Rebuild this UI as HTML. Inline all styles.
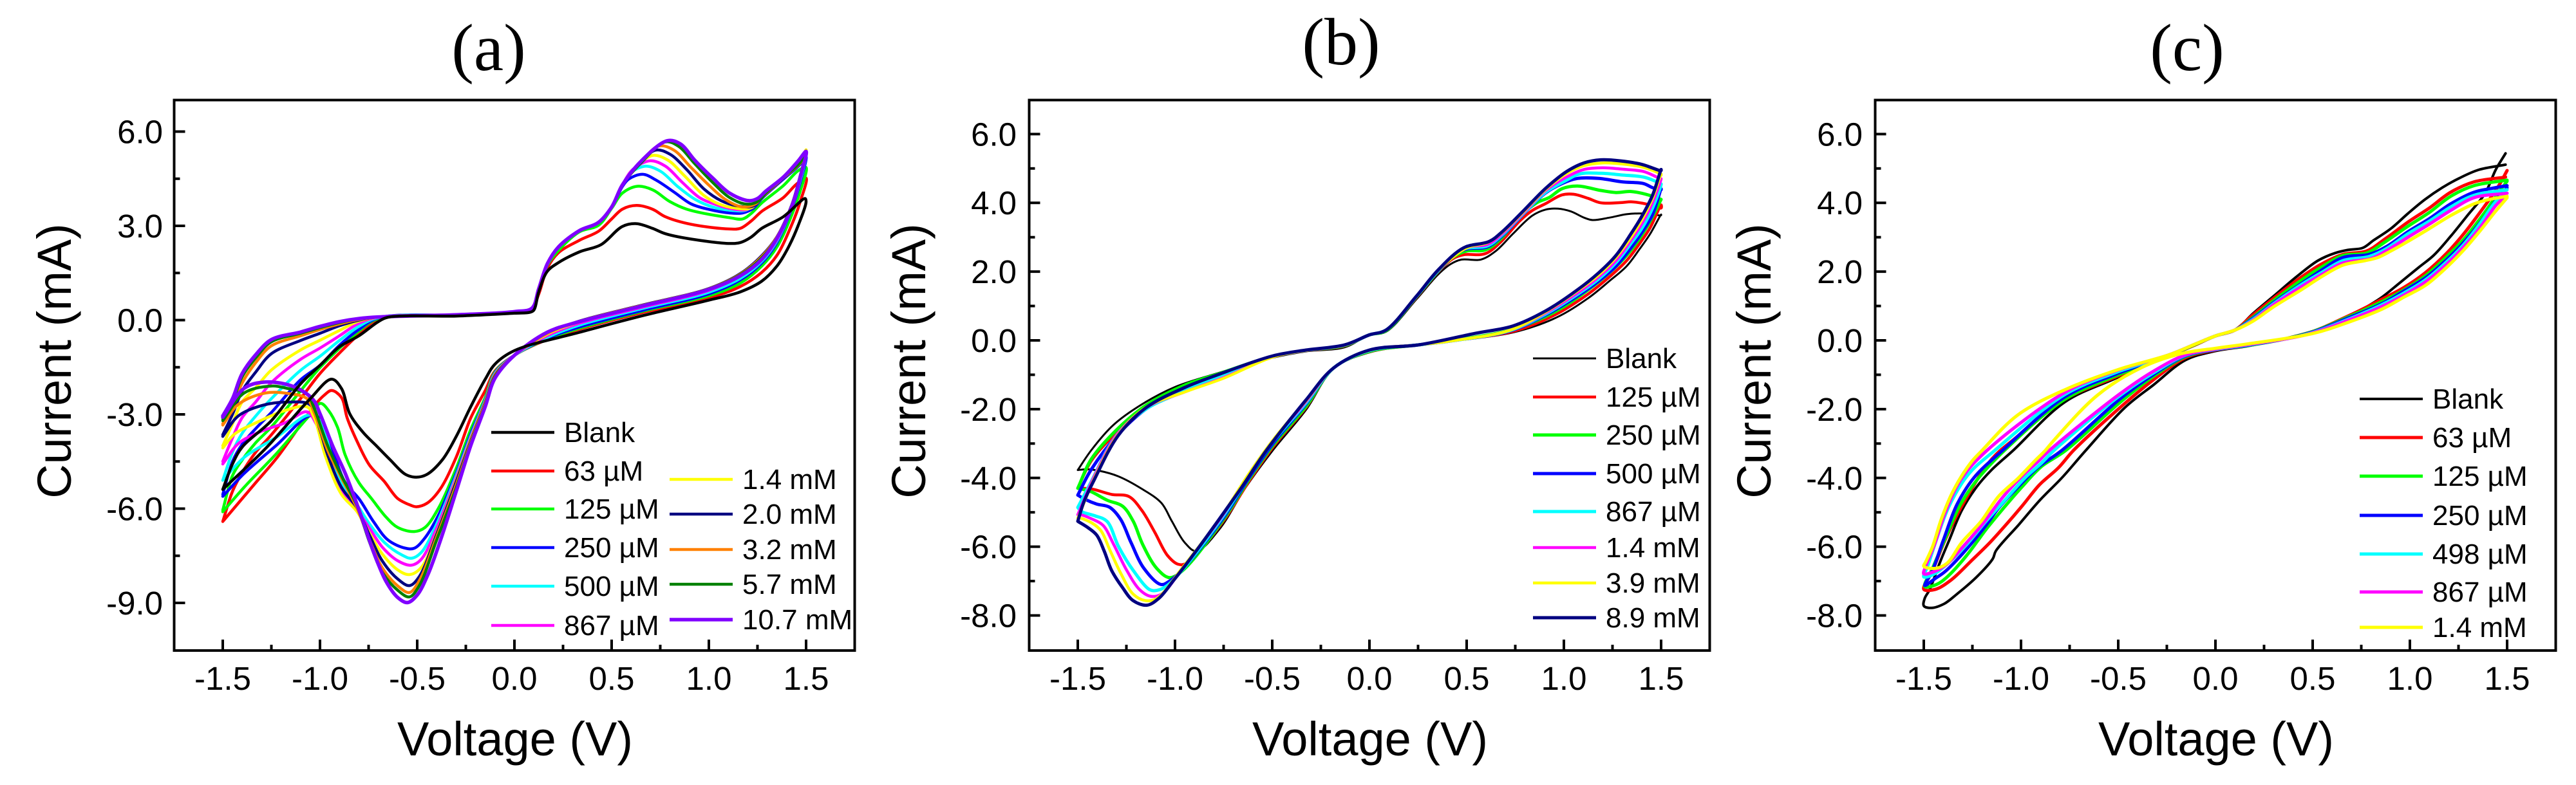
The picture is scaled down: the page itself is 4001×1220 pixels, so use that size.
<!DOCTYPE html>
<html lang="en">
<head>
<meta charset="utf-8">
<title>Cyclic voltammograms (a), (b), (c)</title>
<style>
html,body{margin:0;padding:0;background:#fff;}
svg{display:block;position:absolute;left:0;top:0;}
text{font-family:"Liberation Sans",Arial,sans-serif;fill:#000;}
.panel-title{font-family:"Liberation Serif","Times New Roman",serif;font-size:104px;text-anchor:middle;}
.axis-title{font-size:74px;text-anchor:middle;}
</style>
</head>
<body>
<svg id="figure" xmlns="http://www.w3.org/2000/svg" width="4001" height="1220" viewBox="0 0 4001 1220">
  <rect x="0" y="0" width="4001" height="1220" fill="#fff"/>
  <g id="panel-a">
    <text class="panel-title" x="759" y="109">(a)</text>
    <text class="axis-title" transform="translate(110 561) rotate(-90)">Current (mA)</text>
    <text class="axis-title" x="800" y="1174">Voltage (V)</text>
  </g>
  <g id="panel-b">
    <text class="panel-title" x="2083" y="100">(b)</text>
    <text class="axis-title" transform="translate(1437 561) rotate(-90)">Current (mA)</text>
    <text class="axis-title" x="2128" y="1174">Voltage (V)</text>
  </g>
  <g id="panel-c">
    <text class="panel-title" x="3397" y="109">(c)</text>
    <text class="axis-title" transform="translate(2750 561) rotate(-90)">Current (mA)</text>
    <text class="axis-title" x="3442" y="1174">Voltage (V)</text>
  </g>
</svg>
<script>
/* ---------- shared tick values ---------- */
const xTickValues=[-1.5,-1,-0.5,0,0.5,1,1.5];
const xMinorValues=[-1.25,-0.75,-0.25,0.25,0.75,1.25];
const aYTickValues=[-9,-6,-3,0,3,6];
const aYMinorValues=[-7.5,-4.5,-1.5,1.5,4.5];
const bYTickValues=[-8,-6,-4,-2,0,2,4,6];
const bYMinorValues=[-7,-5,-3,-1,1,3,5];
const cYTickValues=[-8,-6,-4,-2,0,2,4,6];
const cYMinorValues=[-7,-5,-3,-1,1,3,5];

/* ---------- panel (a): labels and readings (V in volts, I in mA) ---------- */
const aLabels=['Blank','63 \u00B5M','125 \u00B5M','250 \u00B5M','500 \u00B5M','867 \u00B5M','1.4 mM','2.0 mM','3.2 mM','5.7 mM','10.7 mM'];
const aLeftV=[-1.5,-1.45,-1.4,-1.33,-1.25,-1.1,-1,-0.9,-0.8,-0.7,-0.3,0,0.09];
const aFlatI=[0.17,0.27,0.38];
const aRiseV=[0.125,0.17,0.225,0.335,0.43,0.5];
const aRiseI=[1,1.8,2.32,2.85,3.1,3.6];
const aLowV=[1.5,1.47,1.427,1.35,1.272,1.162,0.997,0.665,0.334,0.168,0,-0.1];

const aBlankV=[-1.5,-1.45,-1.4,-1.25,-1.1,-1,-0.9,-0.8,-0.7,-0.65,-0.3,0,0.08,0.1,0.125,0.169,0.224,0.334,0.445,0.555,0.627,0.71,0.776,0.908,1.107,1.162,1.217,1.272,1.383,1.495,1.5,1.46,1.405,1.35,1.272,1.162,0.997,0.665,0.334,0,-0.1,-0.15,-0.225,-0.3,-0.37,-0.45,-0.505,-0.56,-0.64,-0.71,-0.78,-0.847,-0.89,-0.94,-1.056,-1.277,-1.5];
const aBlankI=[-5.39,-4.58,-4.04,-3.2,-2.03,-1.44,-0.85,-0.5,-0.05,0.09,0.13,0.22,0.25,0.32,0.9,1.55,1.82,2.17,2.4,2.98,3.07,2.92,2.75,2.58,2.44,2.47,2.64,2.92,3.29,3.87,3.77,3.02,2.27,1.72,1.24,0.9,0.63,0.15,-0.39,-0.97,-1.4,-1.88,-2.76,-3.71,-4.44,-4.91,-5,-4.91,-4.44,-4,-3.56,-2.98,-2.17,-1.88,-2.54,-4.07,-5.39];

const a63V=[...aLeftV,0.125,0.169,0.224,0.334,0.433,0.5,0.555,0.627,0.71,0.776,0.908,1.107,1.162,1.217,1.272,1.383,1.449,...aLowV,-0.15,-0.225,-0.3,-0.383,-0.45,-0.505,-0.53,-0.6,-0.67,-0.745,-0.81,-0.86,-0.89,-0.94,-0.98,-1.023,-1.22,-1.33,-1.5];
const a63I=[-6.41,-5.45,-4.85,-4.2,-3.65,-2.5,-1.7,-1.05,-0.45,0.03,...aFlatI,0.83,1.65,2.13,2.54,2.83,3.22,3.53,3.65,3.53,3.29,3.05,2.9,2.92,3.15,3.46,3.9,4.32,4.52,3.77,3.05,2.06,1.52,1.07,0.7,0.25,-0.29,-0.62,-1.12,-1.62,-2.24,-3.12,-4.37,-5.39,-5.83,-5.94,-5.9,-5.68,-5.13,-4.62,-3.85,-3.12,-2.46,-2.24,-2.4,-2.68,-4.37,-5.17,-6.41];

const a125V=[...aLeftV,0.125,0.17,0.224,0.334,0.433,0.5,0.555,0.632,0.71,0.8,0.886,1.107,1.173,1.217,1.272,1.383,1.46,...aLowV,-0.15,-0.225,-0.3,-0.39,-0.46,-0.515,-0.6,-0.66,-0.735,-0.8,-0.87,-0.91,-0.957,-0.997,-1.056,-1.22,-1.39,-1.5];
const a125I=[-6.05,-4.95,-4.45,-3.9,-3.4,-2.25,-1.51,-0.9,-0.35,0.05,...aFlatI,0.95,1.75,2.2,2.81,3.02,3.56,4.04,4.26,4.15,3.77,3.53,3.26,3.22,3.39,3.73,4.28,4.76,4.86,4.11,3.36,2.33,1.72,1.18,0.77,0.29,-0.26,-0.6,-1.12,-1.65,-2.46,-3.49,-4.73,-5.98,-6.6,-6.73,-6.6,-6.27,-5.68,-5.17,-4.3,-3.41,-2.87,-2.65,-3.05,-4.22,-5.32,-6.1];

const a250V=[...aLeftV,...aRiseV,0.555,0.588,0.66,0.73,0.82,0.908,0.996,1.107,1.173,1.228,1.272,1.383,1.47,...aLowV,-0.15,-0.225,-0.3,-0.39,-0.46,-0.515,-0.56,-0.65,-0.725,-0.8,-0.87,-0.935,-1,-1.056,-1.22,-1.39,-1.5];
const a250I=[-5.55,-4.5,-3.95,-3.45,-2.94,-1.9,-1.44,-0.8,-0.3,0.07,...aFlatI,...aRiseI,4.25,4.49,4.64,4.45,4.08,3.7,3.53,3.41,3.41,3.56,3.87,4.49,4.96,5.2,4.38,3.57,2.47,1.82,1.28,0.83,0.32,-0.22,-0.58,-1.12,-1.68,-2.53,-3.63,-4.88,-6.2,-6.93,-7.26,-7.26,-7,-6.41,-5.68,-5.17,-4.15,-3.12,-3.05,-3.96,-4.88,-5.61];

const a500V=[...aLeftV,...aRiseV,0.555,0.6,0.676,0.753,0.84,0.93,1.02,1.107,1.195,1.272,1.383,1.47,...aLowV,-0.15,-0.225,-0.3,-0.4,-0.48,-0.53,-0.58,-0.67,-0.745,-0.815,-0.88,-0.945,-1,-1.056,-1.22,-1.39,-1.5];
const a500I=[-5.1,-4.2,-3.6,-3.05,-2.5,-1.6,-1.15,-0.65,-0.2,0.08,...aFlatI,...aRiseI,4.3,4.7,4.9,4.73,4.25,3.84,3.6,3.5,3.51,3.95,4.52,5,5.3,4.45,3.6,2.52,1.87,1.33,0.88,0.38,-0.16,-0.55,-1.12,-1.7,-2.55,-3.7,-4.95,-6.49,-7.4,-7.58,-7.47,-7.07,-6.49,-5.83,-5.32,-4.22,-3.2,-3.02,-3.71,-4.37,-5.1];

const a867V=[...aLeftV,...aRiseV,0.555,0.61,0.698,0.776,0.864,0.952,1.04,1.13,1.2,1.272,1.383,1.47,...aLowV,-0.15,-0.225,-0.3,-0.4,-0.48,-0.53,-0.6,-0.68,-0.745,-0.81,-0.89,-0.96,-1.02,-1.067,-1.18,-1.31,-1.42,-1.5];
const a867I=[-4.5,-3.75,-3.1,-2.6,-1.99,-1.25,-0.89,-0.5,-0.1,0.09,...aFlatI,...aRiseI,4.3,4.8,5.07,4.9,4.38,3.9,3.67,3.53,3.53,3.95,4.55,5.02,5.38,4.5,3.62,2.56,1.92,1.4,0.94,0.42,-0.1,-0.5,-1.12,-1.72,-2.58,-3.75,-5.02,-6.63,-7.62,-7.8,-7.66,-7.22,-6.63,-6.05,-5.46,-4.3,-3.3,-2.92,-3.27,-3.56,-3.93,-4.58];

const a1p4V=[...aLeftV,...aRiseV,0.555,0.62,0.71,0.787,0.875,0.974,1.05,1.13,1.217,1.272,1.383,1.47,...aLowV,-0.15,-0.225,-0.3,-0.4,-0.48,-0.54,-0.6,-0.68,-0.745,-0.81,-0.89,-0.97,-1.03,-1.067,-1.19,-1.33,-1.44,-1.5];
const a1p4I=[-4,-3.3,-2.6,-2.15,-1.59,-0.95,-0.64,-0.33,-0.03,0.09,...aFlatI,...aRiseI,4.3,4.85,5.24,5.1,4.59,3.97,3.7,3.57,3.57,3.93,4.55,5.05,5.42,4.58,3.66,2.62,1.98,1.45,0.98,0.46,-0.06,-0.45,-1.12,-1.74,-2.6,-3.8,-5.1,-6.78,-7.88,-8.1,-7.95,-7.44,-6.78,-6.09,-5.54,-4.37,-3.1,-2.76,-2.9,-3.27,-3.63,-4.07];

const a2p0V=[...aLeftV,...aRiseV,0.555,0.63,0.726,0.8,0.886,0.974,1.063,1.15,1.228,1.272,1.383,1.47,...aLowV,-0.15,-0.225,-0.3,-0.4,-0.49,-0.54,-0.6,-0.68,-0.745,-0.81,-0.89,-0.96,-1,-1.05,-1.17,-1.3,-1.42,-1.5];
const a2p0I=[-3.65,-3,-2.25,-1.65,-1.07,-0.65,-0.42,-0.18,0,0.1,...aFlatI,...aRiseI,4.3,4.9,5.41,5.28,4.79,4.18,3.8,3.63,3.63,3.9,4.52,5,5.38,4.6,3.68,2.65,2.05,1.48,1,0.49,-0.03,-0.42,-1.12,-1.76,-2.62,-3.85,-5.15,-6.82,-8.17,-8.45,-8.24,-7.66,-6.85,-5.98,-5.32,-4.3,-3.5,-2.7,-2.61,-2.72,-3.05,-3.7];

const a3p2V=[...aLeftV,...aRiseV,0.555,0.64,0.742,0.82,0.908,0.996,1.085,1.173,1.24,1.272,1.383,1.47,...aLowV,-0.15,-0.225,-0.3,-0.4,-0.49,-0.54,-0.6,-0.68,-0.745,-0.81,-0.89,-0.96,-1.03,-1.067,-1.17,-1.28,-1.42,-1.5];
const a3p2I=[-3.3,-2.75,-2,-1.35,-0.82,-0.5,-0.3,-0.12,0.02,0.1,...aFlatI,...aRiseI,4.3,4.95,5.54,5.41,4.86,4.32,3.84,3.6,3.7,3.9,4.53,5,5.36,4.58,3.66,2.64,2.02,1.46,0.99,0.48,-0.04,-0.42,-1.12,-1.78,-2.65,-3.9,-5.25,-6.9,-8.3,-8.67,-8.46,-7.88,-7,-5.98,-5.02,-4.15,-2.95,-2.5,-2.33,-2.32,-2.68,-3.34];

const a5p7V=[...aLeftV,...aRiseV,0.555,0.65,0.776,0.842,0.93,1.02,1.107,1.195,1.25,1.294,1.383,1.47,...aLowV,-0.15,-0.225,-0.3,-0.4,-0.49,-0.54,-0.6,-0.68,-0.745,-0.81,-0.89,-0.96,-1.03,-1.067,-1.17,-1.25,-1.39,-1.5];
const a5p7I=[-3.15,-2.6,-1.8,-1.2,-0.69,-0.42,-0.24,-0.08,0.04,0.1,...aFlatI,...aRiseI,4.3,5,5.67,5.54,4.96,4.38,3.9,3.69,3.77,4.05,4.55,5.02,5.35,4.56,3.65,2.62,1.98,1.44,0.98,0.47,-0.05,-0.4,-1.12,-1.8,-2.7,-3.95,-5.35,-7,-8.46,-8.81,-8.6,-8.02,-7.07,-5.9,-4.95,-4,-2.8,-2.35,-2.17,-2.1,-2.32,-3.2];

const a10p7V=[...aLeftV,...aRiseV,0.555,0.65,0.787,0.853,0.93,1.02,1.107,1.206,1.25,1.294,1.383,1.46,...aLowV,-0.15,-0.225,-0.3,-0.38,-0.445,-0.5,-0.55,-0.6,-0.66,-0.725,-0.79,-0.87,-0.935,-1,-1.034,-1.13,-1.28,-1.39,-1.5];
const a10p7I=[-3.05,-2.5,-1.7,-1.1,-0.62,-0.38,-0.2,-0.05,0.05,0.1,...aFlatI,...aRiseI,4.3,5.05,5.71,5.61,5.07,4.52,4.04,3.8,3.87,4.11,4.55,5.07,5.37,4.55,3.63,2.6,1.93,1.41,0.97,0.46,-0.05,-0.39,-1.12,-1.85,-2.75,-4,-5.46,-7,-8.1,-8.75,-8.99,-8.83,-8.32,-7.37,-6.2,-4.88,-4,-2.98,-2.54,-2.13,-1.97,-2.17,-3.09];

/* ---------- panel (b) readings ---------- */
const bLabels=['Blank','125 \u00B5M','250 \u00B5M','500 \u00B5M','867 \u00B5M','1.4 mM','3.9 mM','8.9 mM'];

const bBlankV=[-1.5,-1.43,-1.317,-1.176,-1.006,-0.807,-0.496,-0.326,-0.127,0,0.085,0.242,0.352,0.418,0.474,0.573,0.65,0.738,0.838,0.904,0.97,1.036,1.103,1.147,1.235,1.323,1.4,1.456,1.5,1.5,1.444,1.39,1.323,1.235,1.125,0.96,0.738,0.44,0.255,0,-0.184,-0.326,-0.496,-0.637,-0.773,-0.89,-0.95,-1.016,-1.07,-1.17,-1.293,-1.392,-1.45,-1.5];
const bBlankI=[-3.77,-3.19,-2.46,-1.88,-1.37,-1,-0.5,-0.32,-0.2,0.16,0.25,1.2,1.91,2.22,2.35,2.35,2.6,3.1,3.63,3.8,3.83,3.75,3.57,3.5,3.57,3.67,3.69,3.66,3.64,3.66,3.1,2.66,2.16,1.73,1.23,0.66,0.23,0,-0.13,-0.35,-0.82,-2.02,-3.19,-4.28,-5.5,-6.13,-5.88,-5.26,-4.73,-4.32,-3.95,-3.79,-3.75,-3.77];

const b125V=[-1.5,-1.43,-1.29,-1.147,-0.95,-0.78,-0.496,-0.326,-0.127,0,0.085,0.242,0.352,0.43,0.484,0.595,0.673,0.772,0.838,0.904,0.99,1.05,1.125,1.19,1.3,1.345,1.42,1.5,1.5,1.444,1.39,1.323,1.235,1.125,0.96,0.738,0.44,0.255,0,-0.184,-0.326,-0.496,-0.62,-0.752,-0.94,-0.984,-1.038,-1.105,-1.17,-1.237,-1.326,-1.43,-1.5];
const b125I=[-4.3,-3.5,-2.62,-1.92,-1.35,-1,-0.47,-0.3,-0.16,0.16,0.28,1.25,1.98,2.38,2.49,2.52,2.85,3.47,3.78,3.97,4.23,4.25,4.13,4,4.01,4.03,3.97,3.85,3.94,3.28,2.82,2.32,1.85,1.35,0.76,0.26,0,-0.13,-0.33,-0.8,-1.95,-3.1,-4.1,-5.26,-6.48,-6.51,-6.26,-5.57,-4.95,-4.54,-4.48,-4.32,-4.3];

const b250V=[-1.5,-1.43,-1.3,-1.147,-0.95,-0.78,-0.496,-0.326,-0.127,0,0.085,0.242,0.352,0.43,0.5,0.595,0.673,0.772,0.86,0.926,0.99,1.07,1.19,1.268,1.345,1.44,1.5,1.5,1.444,1.39,1.323,1.235,1.125,0.96,0.738,0.44,0.255,0,-0.184,-0.326,-0.496,-0.62,-0.75,-0.96,-1.028,-1.094,-1.166,-1.215,-1.27,-1.348,-1.436,-1.5];
const b250I=[-4.3,-3.45,-2.6,-1.88,-1.3,-0.98,-0.46,-0.29,-0.15,0.16,0.28,1.27,2,2.42,2.6,2.63,2.94,3.6,4,4.16,4.41,4.49,4.36,4.3,4.33,4.22,4.1,4.1,3.47,2.97,2.47,1.97,1.47,0.85,0.32,0.01,-0.13,-0.32,-0.8,-1.92,-3.05,-4.05,-5.2,-6.69,-6.9,-6.63,-5.94,-5.26,-4.82,-4.65,-4.39,-4.3];

const b500V=[-1.5,-1.43,-1.3,-1.15,-0.95,-0.78,-0.496,-0.326,-0.127,0,0.085,0.242,0.352,0.484,0.607,0.683,0.794,0.904,0.99,1.07,1.18,1.3,1.41,1.456,1.5,1.5,1.456,1.4,1.345,1.268,1.18,1.07,0.904,0.72,0.44,0.255,0,-0.184,-0.326,-0.496,-0.62,-0.75,-0.96,-1.028,-1.072,-1.16,-1.226,-1.28,-1.337,-1.403,-1.46,-1.5];
const b500I=[-4.5,-3.75,-2.78,-2,-1.42,-1.02,-0.47,-0.29,-0.14,0.16,0.3,1.28,2.01,2.63,2.72,3.04,3.69,4.28,4.56,4.71,4.71,4.61,4.56,4.44,4.38,4.41,3.66,3.13,2.69,2.16,1.73,1.29,0.73,0.27,0,-0.13,-0.3,-0.8,-1.85,-3,-4,-5.15,-6.66,-7,-7.1,-6.63,-5.88,-5.2,-4.85,-4.76,-4.63,-4.5];

const b867V=[-1.5,-1.43,-1.3,-1.15,-0.95,-0.78,-0.496,-0.326,-0.127,0,0.085,0.242,0.352,0.484,0.607,0.683,0.794,0.904,1.014,1.08,1.19,1.3,1.41,1.47,1.5,1.5,1.456,1.4,1.345,1.268,1.18,1.07,0.904,0.72,0.44,0.255,0,-0.184,-0.326,-0.496,-0.62,-0.75,-0.96,-1.04,-1.093,-1.13,-1.215,-1.29,-1.35,-1.413,-1.48,-1.5];
const b867I=[-4.86,-4.1,-2.75,-2,-1.47,-1.05,-0.47,-0.29,-0.14,0.16,0.3,1.28,2.02,2.65,2.75,3.07,3.7,4.3,4.66,4.84,4.86,4.81,4.75,4.63,4.55,4.53,3.85,3.25,2.82,2.26,1.79,1.34,0.76,0.28,0,-0.13,-0.3,-0.8,-1.82,-2.95,-3.95,-5.1,-6.66,-7.13,-7.27,-7.25,-6.69,-6,-5.26,-5.1,-4.98,-4.86];

const b1p4V=[-1.5,-1.415,-1.295,-1.15,-0.95,-0.75,-0.496,-0.326,-0.127,0,0.085,0.242,0.352,0.5,0.607,0.683,0.794,0.904,1.014,1.103,1.2,1.3,1.41,1.478,1.5,1.5,1.456,1.4,1.345,1.268,1.18,1.07,0.904,0.72,0.44,0.255,0,-0.184,-0.326,-0.496,-0.62,-0.75,-0.96,-1.07,-1.127,-1.182,-1.248,-1.315,-1.37,-1.425,-1.486,-1.5];
const b1p4I=[-5.07,-3.95,-2.72,-1.96,-1.5,-1.08,-0.48,-0.29,-0.14,0.16,0.3,1.29,2.03,2.69,2.79,3.1,3.72,4.35,4.75,4.97,5.02,4.98,4.91,4.75,4.7,4.69,4,3.38,2.91,2.32,1.85,1.38,0.79,0.29,0,-0.13,-0.29,-0.8,-1.78,-2.92,-3.9,-5.05,-6.62,-7.38,-7.44,-7.25,-6.69,-5.94,-5.38,-5.2,-5.07,-5.07];

const b3p9V=[-1.5,-1.41,-1.29,-1.15,-0.95,-0.75,-0.496,-0.326,-0.127,0,0.085,0.242,0.352,0.5,0.607,0.683,0.794,0.904,1.014,1.103,1.2,1.3,1.41,1.495,1.5,1.5,1.456,1.4,1.345,1.268,1.18,1.07,0.904,0.72,0.44,0.255,0,-0.184,-0.326,-0.496,-0.62,-0.75,-0.96,-1.093,-1.15,-1.215,-1.28,-1.337,-1.38,-1.425,-1.486,-1.5];
const b3p9I=[-5.17,-3.95,-2.72,-1.95,-1.5,-1.1,-0.48,-0.29,-0.14,0.16,0.3,1.29,2.03,2.69,2.84,3.14,3.75,4.38,4.85,5.08,5.16,5.13,5.03,4.84,4.8,4.84,4.13,3.5,3,2.41,1.91,1.44,0.82,0.29,0,-0.13,-0.29,-0.8,-1.75,-2.9,-3.88,-5.02,-6.6,-7.5,-7.57,-7.38,-6.76,-6.07,-5.54,-5.32,-5.17,-5.17];

const b8p9V=[-1.5,-1.469,-1.416,-1.29,-1.147,-0.95,-0.78,-0.496,-0.326,-0.127,0,0.085,0.242,0.352,0.484,0.617,0.683,0.794,0.904,1.014,1.103,1.19,1.29,1.4,1.5,1.5,1.456,1.4,1.345,1.268,1.18,1.07,0.904,0.738,0.54,0.255,0,-0.184,-0.326,-0.53,-0.663,-0.773,-0.884,-1.006,-1.083,-1.144,-1.215,-1.27,-1.326,-1.364,-1.403,-1.447,-1.5];
const b8p9I=[-5.26,-4.7,-4.06,-2.75,-1.95,-1.37,-1,-0.45,-0.28,-0.13,0.16,0.3,1.29,2.04,2.69,2.88,3.16,3.78,4.41,4.91,5.16,5.25,5.22,5.12,4.94,4.97,4.22,3.6,3.1,2.47,1.97,1.47,0.85,0.42,0.2,-0.13,-0.28,-0.8,-1.73,-3.2,-4.32,-5.2,-6.07,-6.97,-7.5,-7.7,-7.57,-7.19,-6.69,-6.13,-5.66,-5.45,-5.26];

/* ---------- panel (c) readings ---------- */
const cLabels=['Blank','63 \u00B5M','125 \u00B5M','250 \u00B5M','498 \u00B5M','867 \u00B5M','1.4 mM'];

const cBlankV=[1.492,1.442,1.387,1.3,1.21,1.122,1.045,0.945,0.857,0.77,0.66,0.46,0.17,0,-0.153,-0.32,-0.465,-0.667,-0.787,-0.9,-1.01,-1.13,-1.145,-1.228,-1.33,-1.395,-1.46,-1.5,-1.495,-1.47,-1.416,-1.37,-1.305,-1.228,-1.15,-1.04,-0.776,-0.52,-0.238,-0.1,0,0.1,0.195,0.306,0.417,0.527,0.615,0.68,0.758,0.813,0.902,0.99,1.078,1.166,1.255,1.354,1.492];
const cBlankI=[5.44,4.97,4.28,3.66,3.03,2.47,2.12,1.66,1.26,0.95,0.6,0.2,-0.16,-0.31,-0.57,-1.3,-1.95,-3.2,-3.98,-4.63,-5.35,-6.13,-6.35,-6.88,-7.38,-7.66,-7.78,-7.72,-7.5,-7.25,-6.44,-5.82,-4.95,-4.26,-3.76,-3.2,-1.8,-1.12,-0.45,-0.13,0.13,0.3,0.79,1.32,1.85,2.32,2.54,2.63,2.69,2.91,3.25,3.69,4.1,4.44,4.72,4.96,5.11];

const c63V=[1.5,1.454,1.377,1.277,1.19,1.08,0.97,0.857,0.69,0.47,0.17,0,-0.153,-0.32,-0.49,-0.73,-0.807,-0.905,-0.995,-1.08,-1.16,-1.25,-1.36,-1.44,-1.5,-1.455,-1.394,-1.305,-1.15,-1.03,-0.776,-0.52,-0.238,-0.1,0,0.1,0.19,0.3,0.444,0.545,0.656,0.777,0.877,0.99,1.1,1.21,1.33,1.492];
const c63I=[4.94,4.47,3.85,3.1,2.54,1.97,1.54,1.2,0.73,0.2,-0.15,-0.28,-0.5,-1.15,-1.95,-3.2,-3.7,-4.2,-4.82,-5.38,-5.88,-6.38,-6.97,-7.24,-7.24,-6.7,-5.85,-4.82,-3.45,-2.85,-1.72,-1.08,-0.45,-0.12,0.13,0.3,0.73,1.23,1.85,2.22,2.5,2.6,2.97,3.44,3.85,4.31,4.61,4.75];

const c125V=[1.5,1.454,1.377,1.277,1.19,1.08,0.97,0.857,0.69,0.47,0.17,0,-0.153,-0.32,-0.49,-0.77,-0.895,-0.995,-1.09,-1.18,-1.28,-1.38,-1.435,-1.495,-1.455,-1.394,-1.316,-1.228,-1.085,-0.776,-0.52,-0.238,-0.1,0,0.1,0.19,0.3,0.444,0.545,0.656,0.777,0.877,0.99,1.1,1.21,1.33,1.5];
const c125I=[4.63,4.28,3.66,2.94,2.44,1.88,1.47,1.13,0.7,0.2,-0.15,-0.27,-0.47,-1.05,-1.8,-3.2,-3.67,-4.26,-4.88,-5.5,-6.26,-6.88,-7.1,-7.16,-6.63,-5.82,-4.82,-4.07,-3.2,-1.72,-1.05,-0.44,-0.11,0.13,0.3,0.66,1.16,1.76,2.13,2.47,2.54,2.88,3.32,3.72,4.19,4.5,4.66];

const c250V=[1.5,1.454,1.377,1.277,1.19,1.08,0.97,0.857,0.69,0.47,0.17,0,-0.153,-0.32,-0.49,-0.79,-0.915,-1.015,-1.116,-1.18,-1.3,-1.39,-1.445,-1.495,-1.455,-1.4,-1.328,-1.24,-1.095,-0.776,-0.52,-0.238,-0.1,0,0.1,0.19,0.3,0.444,0.545,0.656,0.79,0.877,0.99,1.1,1.21,1.33,1.42,1.5];
const c250I=[4.44,4.16,3.54,2.85,2.35,1.82,1.44,1.07,0.67,0.19,-0.14,-0.27,-0.45,-1,-1.7,-3.2,-3.7,-4.26,-4.88,-5.38,-6.2,-6.72,-6.94,-7.13,-6.69,-5.82,-4.76,-3.98,-3.2,-1.65,-1,-0.43,-0.1,0.13,0.3,0.63,1.1,1.66,2.04,2.41,2.5,2.72,3.16,3.54,3.97,4.31,4.42,4.5];

const c498V=[1.49,1.44,1.366,1.277,1.19,1.08,0.97,0.857,0.69,0.47,0.17,0,-0.153,-0.32,-0.49,-0.83,-0.895,-0.98,-1.08,-1.18,-1.28,-1.375,-1.445,-1.5,-1.48,-1.44,-1.37,-1.27,-1.135,-0.776,-0.52,-0.238,-0.1,0,0.1,0.19,0.3,0.444,0.545,0.656,0.79,0.877,0.99,1.1,1.21,1.33,1.5];
const c498I=[4.31,4.03,3.44,2.79,2.29,1.76,1.38,1.04,0.63,0.18,-0.13,-0.26,-0.43,-0.95,-1.6,-3.2,-3.57,-4,-4.63,-5.26,-5.94,-6.48,-6.79,-6.88,-6.57,-5.88,-4.82,-3.89,-3.2,-1.58,-0.95,-0.42,-0.1,0.13,0.3,0.6,1.07,1.63,1.97,2.32,2.44,2.66,3.1,3.47,3.88,4.22,4.38];

const c867V=[1.49,1.44,1.366,1.277,1.19,1.08,0.97,0.857,0.69,0.47,0.17,0,-0.153,-0.32,-0.49,-0.854,-0.91,-0.995,-1.095,-1.195,-1.295,-1.38,-1.445,-1.5,-1.49,-1.445,-1.39,-1.305,-1.175,-0.776,-0.52,-0.238,-0.1,0,0.1,0.19,0.3,0.444,0.545,0.656,0.8,0.877,0.99,1.1,1.21,1.33,1.5];
const c867I=[4.19,3.91,3.32,2.72,2.22,1.7,1.32,0.99,0.6,0.17,-0.12,-0.25,-0.42,-0.9,-1.55,-3.2,-3.51,-3.95,-4.57,-5.32,-5.98,-6.5,-6.72,-6.79,-6.57,-5.94,-5.01,-4.01,-3.2,-1.52,-0.9,-0.42,-0.1,0.13,0.3,0.57,1.04,1.57,1.91,2.25,2.38,2.6,3,3.38,3.78,4.15,4.28];

const c1p4V=[1.5,1.44,1.366,1.277,1.19,1.08,0.97,0.857,0.69,0.5,0.17,0,-0.18,-0.38,-0.606,-0.83,-0.875,-0.93,-1.015,-1.116,-1.205,-1.305,-1.38,-1.44,-1.5,-1.49,-1.455,-1.41,-1.35,-1.26,-1.2,-1.017,-0.776,-0.49,-0.238,-0.1,0,0.1,0.19,0.3,0.444,0.545,0.656,0.77,0.835,0.902,0.99,1.1,1.21,1.33,1.41,1.5];
const c1p4I=[4.15,3.75,3.22,2.63,2.13,1.6,1.26,0.91,0.54,0.2,-0.1,-0.23,-0.39,-0.79,-1.59,-2.9,-3.2,-3.51,-4.01,-4.54,-5.26,-5.88,-6.48,-6.63,-6.57,-6.44,-6,-5.2,-4.39,-3.57,-3.2,-2.17,-1.44,-0.83,-0.42,-0.1,0.13,0.3,0.55,0.98,1.48,1.85,2.19,2.32,2.41,2.6,2.88,3.25,3.63,3.97,4.1,4.19];

/* ---------- per-panel groupings ---------- */
const aVoltages=[aBlankV,a63V,a125V,a250V,a500V,a867V,a1p4V,a2p0V,a3p2V,a5p7V,a10p7V];
const aCurrents=[aBlankI,a63I,a125I,a250I,a500I,a867I,a1p4I,a2p0I,a3p2I,a5p7I,a10p7I];
const bVoltages=[bBlankV,b125V,b250V,b500V,b867V,b1p4V,b3p9V,b8p9V];
const bCurrents=[bBlankI,b125I,b250I,b500I,b867I,b1p4I,b3p9I,b8p9I];
const cVoltages=[cBlankV,c63V,c125V,c250V,c498V,c867V,c1p4V];
const cCurrents=[cBlankI,c63I,c125I,c250I,c498I,c867I,c1p4I];

const aColors=['#000000','#ff0000','#00ff00','#0000ff','#00ffff','#ff00ff','#ffff00','#000080','#ff8000','#008000','#8000ff'];
const bColors=['#000000','#ff0000','#00ff00','#0000ff','#00ffff','#ff00ff','#ffff00','#000080'];
const cColors=['#000000','#ff0000','#00ff00','#0000ff','#00ffff','#ff00ff','#ffff00'];

const SVGNS='http://www.w3.org/2000/svg';

function makeEl(tag,attrs,parent){
  const el=document.createElementNS(SVGNS,tag);
  for(const k in attrs){el.setAttribute(k,attrs[k]);}
  parent.appendChild(el);
  return el;
}

/* centripetal Catmull-Rom through the read points */
function curvePath(pts){
  let d='M'+pts[0][0].toFixed(1)+' '+pts[0][1].toFixed(1);
  for(let i=0;i<pts.length-1;i++){
    const p0=pts[i>0?i-1:0],p1=pts[i],p2=pts[i+1],p3=pts[i+2<pts.length?i+2:i+1];
    const s=(a,b)=>Math.pow(Math.hypot(a[0]-b[0],a[1]-b[1]),0.5);
    const d1=s(p0,p1),d2=s(p1,p2),d3=s(p2,p3);
    let c1=p1,c2=p2;
    if(d2>0){
      if(d1>0){
        const n=3*d1*(d1+d2);
        const m=2*d1*d1+3*d1*d2+d2*d2;
        c1=[(d1*d1*p2[0]-d2*d2*p0[0]+m*p1[0])/n,(d1*d1*p2[1]-d2*d2*p0[1]+m*p1[1])/n];
      }else{
        c1=[p1[0]+(p2[0]-p1[0])/3,p1[1]+(p2[1]-p1[1])/3];
      }
      if(d3>0){
        const n=3*d3*(d3+d2);
        const m=2*d3*d3+3*d3*d2+d2*d2;
        c2=[(d3*d3*p1[0]-d2*d2*p3[0]+m*p2[0])/n,(d3*d3*p1[1]-d2*d2*p3[1]+m*p2[1])/n];
      }else{
        c2=[p2[0]-(p2[0]-p1[0])/3,p2[1]-(p2[1]-p1[1])/3];
      }
    }
    d+='C'+c1[0].toFixed(1)+' '+c1[1].toFixed(1)+' '+c2[0].toFixed(1)+' '+c2[1].toFixed(1)+' '+p2[0].toFixed(1)+' '+p2[1].toFixed(1);
  }
  return d;
}

function drawPanel(cfg){
  const root=document.getElementById(cfg.id);
  const xScale=v=>cfg.x0+cfg.xUnit*v;
  const yScale=c=>cfg.y0-cfg.yUnit*c;
  const boxTop=155.5,boxBottom=1011;
  const left=xScale(-1.75),right=xScale(1.75);

  /* curves */
  const curves=makeEl('g',{},root);
  
  
  cfg.order.forEach(function(idx){
    const vs=cfg.voltages[idx],cs=cfg.currents[idx];
    const n=Math.min(vs.length,cs.length);
    const pts=[];
    for(let j=0;j<n;j++){pts.push([xScale(vs[j]),yScale(cs[j])]);}
    const path=makeEl('path',{d:curvePath(pts),fill:'none',stroke:cfg.colors[idx],'stroke-width':cfg.widths[idx],'stroke-linejoin':'round','stroke-linecap':'round'},curves);
    
    
  });

  /* frame */
  const frame=makeEl('rect',{x:left,y:boxTop,width:right-left,height:boxBottom-boxTop,fill:'none',stroke:'#000','stroke-width':4},root);
  
  

  /* x ticks */
  const xAxis=makeEl('g',{},root);
  
  
  xTickValues.forEach(function(v){
    const t=makeEl('line',{x1:xScale(v),x2:xScale(v),y1:boxBottom,y2:boxBottom-17,stroke:'#000','stroke-width':4},xAxis);
    
    
    const lab=makeEl('text',{x:xScale(v),y:1072,'font-size':51,'text-anchor':'middle'},xAxis);
    lab.textContent=v.toFixed(1);
    
    
  });
  xMinorValues.forEach(function(v){
    const t=makeEl('line',{x1:xScale(v),x2:xScale(v),y1:boxBottom,y2:boxBottom-9,stroke:'#000','stroke-width':4},xAxis);
    
    
  });

  /* y ticks */
  const yAxis=makeEl('g',{},root);
  
  
  cfg.yTicks.forEach(function(c){
    const t=makeEl('line',{x1:left,x2:left+17,y1:yScale(c),y2:yScale(c),stroke:'#000','stroke-width':4},yAxis);
    
    
    const lab=makeEl('text',{x:cfg.yLabelX,y:yScale(c)+18,'font-size':51,'text-anchor':'end'},yAxis);
    lab.textContent=c.toFixed(1);
    
    
  });
  cfg.yMinor.forEach(function(c){
    const t=makeEl('line',{x1:left,x2:left+9,y1:yScale(c),y2:yScale(c),stroke:'#000','stroke-width':4},yAxis);
    
    
  });

  /* legend */
  const legend=makeEl('g',{},root);
  
  
  cfg.legend.forEach(function(slot,idx){
    const entry=makeEl('g',{},legend);
    
    
    const sw=makeEl('line',{x1:slot.x,x2:slot.x+98,y1:slot.y,y2:slot.y,stroke:cfg.colors[idx],'stroke-width':cfg.widths[idx]},entry);
    
    
    const tx=makeEl('text',{x:slot.x+113,y:slot.y+15,'font-size':44},entry);
    tx.textContent=cfg.labels[idx];
    
    
  });
}

drawPanel({id:'panel-a',x0:799,xUnit:302,y0:497.5,yUnit:48.83,yLabelX:253,
  voltages:aVoltages,currents:aCurrents,labels:aLabels,colors:aColors,
  widths:[4.5,4.5,4.5,4.5,4.5,4.5,4.5,4.5,4.5,4.5,5.5],
  order:[1,2,3,4,5,6,7,8,9,10,0],yTicks:aYTickValues,yMinor:aYMinorValues,
  legend:[{x:763,y:672},{x:763,y:732},{x:763,y:791},{x:763,y:851},{x:763,y:911},{x:763,y:972},
          {x:1040,y:745},{x:1040,y:799},{x:1040,y:854},{x:1040,y:908},{x:1040,y:963}]});

drawPanel({id:'panel-b',x0:2127,xUnit:302,y0:529,yUnit:53.44,yLabelX:1579,
  voltages:bVoltages,currents:bCurrents,labels:bLabels,colors:bColors,
  widths:[3,4.5,5,5,5,4.5,4.5,5],
  order:[0,1,2,3,4,5,6,7],yTicks:bYTickValues,yMinor:bYMinorValues,
  legend:[{x:2381,y:557},{x:2381,y:617},{x:2381,y:676},{x:2381,y:736},{x:2381,y:795},{x:2381,y:851},{x:2381,y:906},{x:2381,y:960}]});

drawPanel({id:'panel-c',x0:3441,xUnit:302,y0:529,yUnit:53.44,yLabelX:2893,
  voltages:cVoltages,currents:cCurrents,labels:cLabels,colors:cColors,
  widths:[4,5,5,5,5,5,5],
  order:[0,1,2,3,4,5,6],yTicks:cYTickValues,yMinor:cYMinorValues,
  legend:[{x:3665,y:620},{x:3665,y:680},{x:3665,y:740},{x:3665,y:801},{x:3665,y:861},{x:3665,y:920},{x:3665,y:975}]});
</script>
</body>
</html>
